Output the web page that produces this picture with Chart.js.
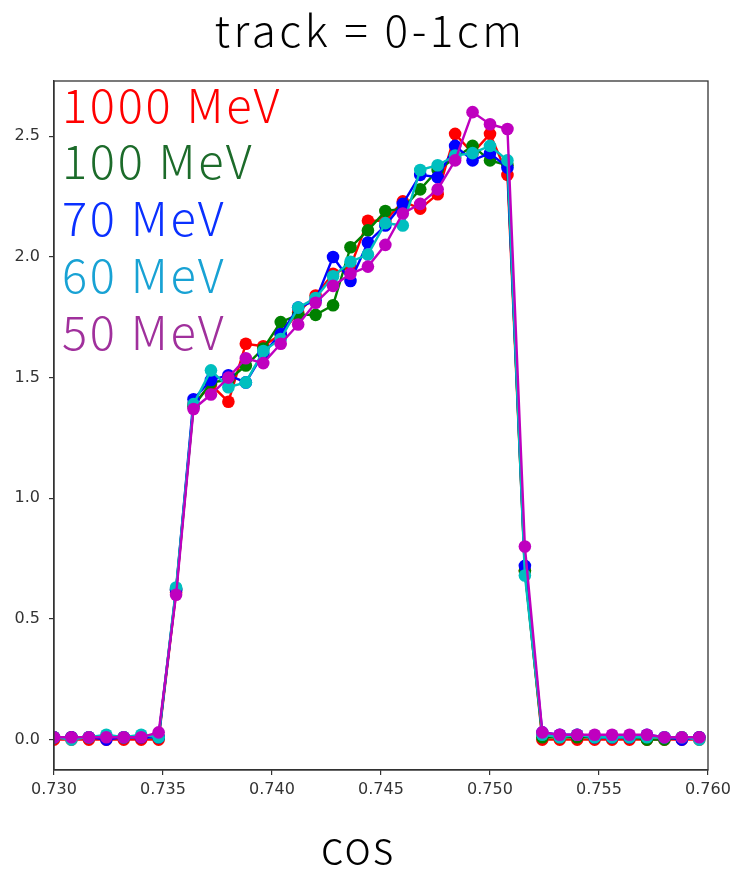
<!DOCTYPE html>
<html>
<head>
<meta charset="utf-8">
<title>track = 0-1cm</title>
<script src="https://cdn.jsdelivr.net/npm/chart.js@4.4.1/dist/chart.umd.min.js"></script>
<style>
  html, body { margin: 0; padding: 0; background: #fff; }
</style>
</head>
<body>
<canvas id="chart" width="736" height="870"></canvas>
<script>
// bin positions (cos)
const COS = [
  0.7300, 0.7308, 0.7316, 0.7324, 0.7332, 0.7340, 0.7348, 0.7356, 0.7364, 0.7372,
  0.7380, 0.7388, 0.7396, 0.7404, 0.7412, 0.7420, 0.7428, 0.7436, 0.7444, 0.7452,
  0.7460, 0.7468, 0.7476, 0.7484, 0.7492, 0.7500, 0.7508, 0.7516, 0.7524, 0.7532,
  0.7540, 0.7548, 0.7556, 0.7564, 0.7572, 0.7580, 0.7588, 0.7596
];

// series values
const mev1000 = [
  0.00, 0.00, 0.00, 0.00, 0.00, 0.00, 0.00, 0.61, 1.39, 1.47,
  1.40, 1.64, 1.63, 1.68, 1.77, 1.84, 1.93, 1.96, 2.15, 2.15,
  2.23, 2.20, 2.26, 2.51, 2.43, 2.51, 2.34, 0.70, 0.00, 0.00,
  0.00, 0.00, 0.00, 0.00, 0.00, 0.00, 0.00, 0.00
];
const mev100 = [
  0.01, 0.01, 0.01, 0.01, 0.01, 0.01, 0.01, 0.62, 1.38, 1.48,
  1.49, 1.55, 1.62, 1.73, 1.76, 1.76, 1.80, 2.04, 2.11, 2.19,
  2.20, 2.28, 2.36, 2.41, 2.46, 2.40, 2.38, 0.70, 0.01, 0.01,
  0.01, 0.01, 0.01, 0.01, 0.00, 0.00, 0.01, 0.01
];
const mev70 = [
  0.01, 0.01, 0.01, 0.00, 0.01, 0.01, 0.01, 0.62, 1.41, 1.49,
  1.51, 1.48, 1.60, 1.68, 1.79, 1.82, 2.00, 1.90, 2.06, 2.13,
  2.22, 2.34, 2.33, 2.46, 2.40, 2.43, 2.37, 0.72, 0.03, 0.02,
  0.02, 0.01, 0.01, 0.01, 0.02, 0.01, 0.00, 0.01
];
const mev60 = [
  0.01, 0.00, 0.01, 0.02, 0.01, 0.02, 0.01, 0.63, 1.39, 1.53,
  1.46, 1.48, 1.61, 1.66, 1.79, 1.83, 1.92, 1.98, 2.01, 2.14,
  2.13, 2.36, 2.38, 2.42, 2.43, 2.46, 2.40, 0.68, 0.02, 0.01,
  0.02, 0.01, 0.01, 0.01, 0.01, 0.01, 0.01, 0.00
];
const mev50 = [
  0.01, 0.01, 0.01, 0.01, 0.01, 0.01, 0.03, 0.60, 1.37, 1.43,
  1.50, 1.58, 1.56, 1.64, 1.72, 1.81, 1.88, 1.93, 1.96, 2.05,
  2.18, 2.22, 2.28, 2.40, 2.60, 2.55, 2.53, 0.80, 0.03, 0.02,
  0.02, 0.02, 0.02, 0.02, 0.02, 0.01, 0.01, 0.01
];

const LABELS = ['1000 MeV', '100 MeV', '70 MeV', '60 MeV', '50 MeV'];
const LINE_COLORS = ['#ff0000', '#008000', '#0000ff', '#00bfbf', '#bf00bf'];
const TEXT_COLORS = ['#ff0000', '#1c6b2a', '#0a30ff', '#18a2d4', '#a0309c'];
const X_TICKS = [0.730, 0.735, 0.740, 0.745, 0.750, 0.755, 0.760];
const Y_TICKS = [0.0, 0.5, 1.0, 1.5, 2.0, 2.5];

const SERIES = [mev1000, mev100, mev70, mev60, mev50];

const CJK = '"Noto Sans CJK JP", "Noto Sans", sans-serif';

// draw title, labels, text legend and the box round the plot
const decorPlugin = {
  id: 'decor',
  afterDraw(chart) {
    const ctx = chart.ctx;
    const a = chart.chartArea;
    ctx.save();
    ctx.strokeStyle = '#333';
    ctx.lineWidth = 1.3;
    ctx.strokeRect(a.left, a.top, a.right - a.left, a.bottom - a.top);

    ctx.fillStyle = '#000';
    ctx.textAlign = 'center';
    ctx.textBaseline = 'alphabetic';
    ctx.font = '300 44px ' + CJK;
    ctx.letterSpacing = '3.5px';
    ctx.fillText('track = 0-1cm', 370, 47);
    ctx.letterSpacing = '2px';
    ctx.font = '300 45px ' + CJK;
    ctx.fillText('cos', 358, 864);

    ctx.textAlign = 'left';
    ctx.font = '300 47px ' + CJK;
    ctx.letterSpacing = '2.7px';
    const base = [123, 179, 236, 293, 350];
    LABELS.forEach((t, i) => {
      ctx.fillStyle = TEXT_COLORS[i];
      ctx.fillText(t, 62, base[i]);
    });
    ctx.restore();
  }
};

const datasets = SERIES.map((vals, i) => ({
  label: LABELS[i],
  data: vals.map((v, j) => ({ x: COS[j], y: v })),
  borderColor: LINE_COLORS[i],
  backgroundColor: LINE_COLORS[i],
  pointBackgroundColor: LINE_COLORS[i],
  pointBorderWidth: 0,
  pointRadius: 6.3,
  borderWidth: 2.4,
  tension: 0,
  order: SERIES.length - i
}));

new Chart(document.getElementById('chart'), {
  type: 'line',
  data: { datasets },
  options: {
    responsive: false,
    animation: false,
    devicePixelRatio: 1,
    layout: { padding: { top: 81, left: 0, right: 28, bottom: 60 } },
    plugins: { legend: { display: false }, tooltip: { enabled: false } },
    scales: {
      x: {
        type: 'linear',
        min: 0.730,
        max: 0.760,
        afterBuildTicks: s => { s.ticks = X_TICKS.map(v => ({ value: v })); },
        afterFit: s => { s.height = 40; s.paddingLeft = 0; s.paddingRight = 0; },
        ticks: {
          color: '#333',
          font: { family: 'DejaVu Sans', size: 16 },
          padding: 5,
          maxRotation: 0,
          autoSkip: false,
          callback: v => v.toFixed(3)
        },
        grid: { drawOnChartArea: false, drawTicks: true, tickLength: 5, color: '#333', lineWidth: 1.2 },
        border: { display: true, color: '#333', width: 1.3 }
      },
      y: {
        type: 'linear',
        min: -0.126,
        max: 2.729,
        afterBuildTicks: s => { s.ticks = Y_TICKS.map(v => ({ value: v })); },
        afterFit: s => { s.width = 54; s.paddingTop = 0; s.paddingBottom = 0; },
        ticks: {
          color: '#333',
          font: { family: 'DejaVu Sans', size: 16 },
          padding: 9,
          autoSkip: false,
          callback: v => v.toFixed(1)
        },
        grid: { drawOnChartArea: false, drawTicks: true, tickLength: 5, color: '#333', lineWidth: 1.2 },
        border: { display: true, color: '#333', width: 1.3 }
      }
    }
  },
  plugins: [decorPlugin]
});
</script>
</body>
</html>
